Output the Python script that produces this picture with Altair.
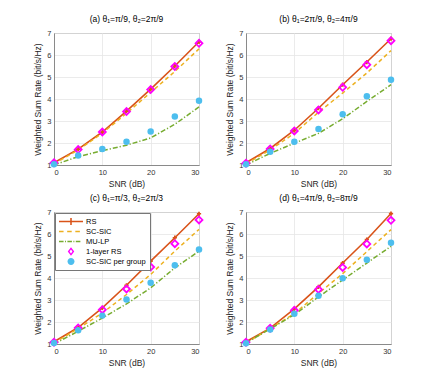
import altair as alt
import pandas as pd

snr = [0, 5, 10, 15, 20, 25, 30]
series_names = ["RS", "SC-SIC", "MU-LP", "1-layer RS", "SC-SIC per group"]
titles = ["(a) θ₁=π/9, θ₂=2π/9", "(b) θ₁=2π/9, θ₂=4π/9",
          "(c) θ₁=π/3, θ₂=2π/3", "(d) θ₁=4π/9, θ₂=8π/9"]

rs_a = [1.10, 1.72, 2.50, 3.45, 4.45, 5.50, 6.60]
sc_a = [1.05, 1.68, 2.45, 3.35, 4.30, 5.25, 6.28]
mu_a = [1.00, 1.38, 1.65, 1.90, 2.23, 2.85, 3.64]
l1_a = [1.10, 1.70, 2.50, 3.43, 4.43, 5.48, 6.53]
pg_a = [1.03, 1.43, 1.73, 2.06, 2.52, 3.20, 3.92]

rs_b = [1.10, 1.75, 2.58, 3.58, 4.65, 5.68, 6.74]
sc_b = [1.05, 1.68, 2.44, 3.40, 4.27, 5.18, 6.20]
mu_b = [1.00, 1.53, 1.99, 2.44, 3.10, 3.89, 4.65]
l1_b = [1.08, 1.73, 2.55, 3.50, 4.53, 5.56, 6.65]
pg_b = [1.03, 1.60, 2.06, 2.64, 3.31, 4.12, 4.87]

rs_c = [1.10, 1.75, 2.64, 3.67, 4.77, 5.83, 6.92]
sc_c = [1.05, 1.70, 2.41, 3.25, 4.16, 5.22, 6.21]
mu_c = [1.00, 1.58, 2.18, 2.82, 3.55, 4.46, 5.22]
l1_c = [1.08, 1.73, 2.56, 3.50, 4.50, 5.56, 6.64]
pg_c = [1.05, 1.62, 2.29, 3.02, 3.78, 4.58, 5.30]

rs_d = [1.10, 1.72, 2.60, 3.60, 4.68, 5.75, 6.93]
sc_d = [1.05, 1.70, 2.38, 3.30, 4.20, 5.20, 6.20]
mu_d = [1.05, 1.69, 2.33, 3.14, 3.91, 4.68, 5.44]
l1_d = [1.08, 1.72, 2.53, 3.48, 4.48, 5.55, 6.62]
pg_d = [1.03, 1.66, 2.38, 3.19, 3.99, 4.83, 5.60]

panels = [
    (rs_a, sc_a, mu_a, l1_a, pg_a),
    (rs_b, sc_b, mu_b, l1_b, pg_b),
    (rs_c, sc_c, mu_c, l1_c, pg_c),
    (rs_d, sc_d, mu_d, l1_d, pg_d),
]

colors = ["#D95319", "#EDB120", "#77AC30", "#FF00FF", "#4DBEEE"]

# legend symbol paths (unit box -1..1, scaled by sqrt(size)/2)
t = 0.065
rs_path = (f"M-1,{-t}L1,{-t}L1,{t}L-1,{t}Z"
           f"M{-t},-0.3L{t},-0.3L{t},0.3L{-t},0.3Z")
def dashes(segs):
    return "".join(f"M{a},{-t}L{b},{-t}L{b},{t}L{a},{t}Z" for a, b in segs)
sc_path = dashes([(-1, -0.62), (-0.32, 0.06), (0.36, 0.74)])
mu_path = dashes([(-1, -0.62), (-0.5, -0.42), (-0.3, 0.08), (0.2, 0.28), (0.4, 0.78)])
dia_path = ("M0,-0.36L0.27,0L0,0.36L-0.27,0Z"
            "M0,-0.17L-0.12,0L0,0.17L0.12,0Z")
cir_path = "M-0.29,0A0.29,0.29,0,1,0,0.29,0A0.29,0.29,0,1,0,-0.29,0Z"
shapes = [rs_path, sc_path, mu_path, dia_path, cir_path]

FONT = "Liberation Sans"


def make_panel(idx):
    vals = panels[idx]
    rows = []
    for name, ys in zip(series_names, vals):
        for s, v in zip(snr, ys):
            rows.append({"snr": s, "rate": v, "series": name})
    df = pd.DataFrame(rows)
    base = alt.Chart(df).encode(
        x=alt.X("snr:Q", title="SNR (dB)",
                scale=alt.Scale(domain=[0, 30], nice=False),
                axis=alt.Axis(values=[0, 10, 20, 30])),
        y=alt.Y("rate:Q", title="Weighted Sum Rate (bit/s/Hz)",
                scale=alt.Scale(domain=[1, 7], nice=False),
                axis=alt.Axis(values=[1, 2, 3, 4, 5, 6, 7])),
    )
    rs_line = base.transform_filter(alt.datum.series == "RS").mark_line(
        color=colors[0], strokeWidth=1.6)
    sc_line = base.transform_filter(alt.datum.series == "SC-SIC").mark_line(
        color=colors[1], strokeWidth=1.5, strokeDash=[4, 3])
    mu_line = base.transform_filter(alt.datum.series == "MU-LP").mark_line(
        color=colors[2], strokeWidth=1.5, strokeDash=[5, 2, 1.2, 2])
    rs_pts = base.transform_filter(alt.datum.series == "RS").mark_point(
        shape="cross", filled=True, color=colors[0], size=18, opacity=1)
    l1_pts = base.transform_filter(alt.datum.series == "1-layer RS").mark_point(
        shape="diamond", filled=False, color=colors[3], size=48,
        strokeWidth=1.8, opacity=1)
    pg_pts = base.transform_filter(alt.datum.series == "SC-SIC per group").mark_point(
        shape="circle", filled=True, color=colors[4], size=42, opacity=1)
    layers = [rs_line, sc_line, mu_line, rs_pts, l1_pts, pg_pts]
    if idx == 2:
        leg = alt.Legend(
            title=None, orient="top-left", offset=1, padding=4,
            fillColor="white", strokeColor="#777777",
            symbolSize=576, symbolStrokeWidth=0, symbolOpacity=1,
            symbolFillColor="#000000",
            clipHeight=9, rowPadding=1, labelOffset=3,
            labelFont=FONT, labelFontSize=7.5, labelColor="#000000",
        )
        legend_layer = base.mark_point(filled=True, opacity=0).encode(
            color=alt.Color("series:N",
                            scale=alt.Scale(domain=series_names, range=colors),
                            legend=leg, sort=series_names),
            shape=alt.Shape("series:N",
                            scale=alt.Scale(domain=series_names, range=shapes),
                            legend=leg, sort=series_names),
        )
        layers.append(legend_layer)
    return alt.layer(*layers).properties(
        width=145, height=132,
        title=alt.TitleParams(titles[idx], fontSize=8.5, fontWeight="normal",
                              font=FONT, offset=6, color="#000000"),
    )


chart = alt.concat(
    *[make_panel(i) for i in range(4)], columns=2,
    spacing={"row": 4, "column": 18}
).resolve_scale(
    color="independent", shape="independent"
).properties(
    padding={"left": 25, "top": 6, "right": 5, "bottom": 5}
).configure_view(
    stroke="#8a8a8a", strokeWidth=1
).configure_axis(
    labelFont=FONT, titleFont=FONT, labelFontSize=7.5, titleFontSize=8.5,
    titleFontWeight="normal", labelColor="#333333", titleColor="#262626",
    gridColor="#e6e6e6", gridWidth=0.8, domainColor="#8a8a8a", domainWidth=1,
    ticks=False, labelPadding=3, titlePadding=4,
)

chart.save("out.html", embed_options={"renderer": "svg", "actions": False})
